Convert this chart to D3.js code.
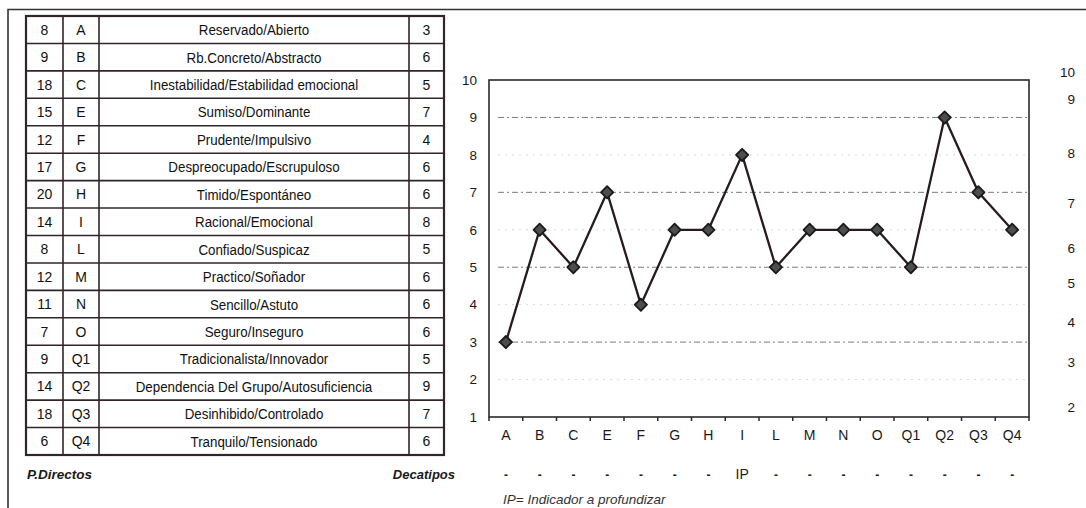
<!DOCTYPE html>
<html lang="es">
<head>
<meta charset="UTF-8">
<title>Perfil 16PF - Decatipos</title>
<script src="https://d3js.org/d3.v7.min.js"></script>
<style>
  body { margin: 0; background: #fff; overflow: hidden; }
  svg { display: block; font-family: 'Liberation Sans', Arial, sans-serif; }
  .celda { font-family: 'Liberation Sans Narrow', 'Arial Narrow', 'Liberation Sans', sans-serif; font-size: 15px; fill: #111; }
  .num { font-family: 'Liberation Sans', Arial, sans-serif; font-size: 14px; fill: #111; }
  .eje text { font-size: 13.5px; fill: #1a1a1a; }
  .pie { font-size: 13.5px; font-weight: bold; font-style: italic; fill: #1a1a1a; }
</style>
</head>
<body>
<svg id="grafico"></svg>
<script>
// Datos del perfil
const factores = ['A', 'B', 'C', 'E', 'F', 'G', 'H', 'I', 'L', 'M', 'N', 'O', 'Q1', 'Q2', 'Q3', 'Q4'];
const puntajesDirectos = [8, 9, 18, 15, 12, 17, 20, 14, 8, 12, 11, 7, 9, 14, 18, 6];
const descripciones = [
  'Reservado/Abierto', 'Rb.Concreto/Abstracto', 'Inestabilidad/Estabilidad emocional',
  'Sumiso/Dominante', 'Prudente/Impulsivo', 'Despreocupado/Escrupuloso',
  'Timido/Espontáneo', 'Racional/Emocional', 'Confiado/Suspicaz', 'Practico/Soñador',
  'Sencillo/Astuto', 'Seguro/Inseguro', 'Tradicionalista/Innovador',
  'Dependencia Del Grupo/Autosuficiencia', 'Desinhibido/Controlado', 'Tranquilo/Tensionado'
];
const decatipos = [3, 6, 5, 7, 4, 6, 6, 8, 5, 6, 6, 6, 5, 9, 7, 6];
const marcasIP = ['-', '-', '-', '-', '-', '-', '-', 'IP', '-', '-', '-', '-', '-', '-', '-', '-'];

// Ejes
const ticksIzquierda = [1, 2, 3, 4, 5, 6, 7, 8, 9, 10];
const lineasFuertes = [9, 7, 5, 3];
const lineasSuaves = [8, 6, 4, 2];
const etiquetasDerecha = [10, 9, 8, 7, 6, 5, 4, 3, 2];
const posicionesDerecha = [10.2, 9.5, 8.05, 6.7, 5.5, 4.57, 3.53, 2.46, 1.26];

const width = 1086, height = 508;
const svg = d3.select('#grafico').attr('width', width).attr('height', height);

// Marco exterior (solo arriba e izquierda)
svg.append('path')
  .attr('d', `M8,508 L8,9.5 L${width},9.5`)
  .attr('fill', 'none').attr('stroke', '#333').attr('stroke-width', 1.6);

// ---- Tabla ----
const columnas = [26, 63, 99, 409, 444];
const filas = d3.scaleBand().domain(factores).range([16, 455]);
const colorTabla = '#33242a';

const tabla = svg.append('g');
tabla.selectAll('line.h')
  .data(factores.slice(1))
  .join('line')
  .attr('x1', columnas[0]).attr('x2', columnas[4])
  .attr('y1', d => filas(d)).attr('y2', d => filas(d))
  .attr('stroke', colorTabla).attr('stroke-width', 1.6);
tabla.selectAll('line.v')
  .data(columnas.slice(1, 4))
  .join('line')
  .attr('x1', d => d).attr('x2', d => d)
  .attr('y1', 16).attr('y2', 455)
  .attr('stroke', colorTabla).attr('stroke-width', 1.6);
tabla.append('rect')
  .attr('x', columnas[0]).attr('y', 16)
  .attr('width', columnas[4] - columnas[0]).attr('height', 439)
  .attr('fill', 'none').attr('stroke', colorTabla).attr('stroke-width', 2.2);

const centroFila = d => filas(d) + filas.bandwidth() / 2;
const textosColumnas = [puntajesDirectos, factores, descripciones, decatipos];
textosColumnas.forEach((valores, c) => {
  const cx = (columnas[c] + columnas[c + 1]) / 2;
  // la descripción va condensada, como en la hoja original
  const escala = c === 2 ? 0.89 : 1;
  tabla.selectAll(null)
    .data(factores)
    .join('text')
    .attr('class', c === 2 ? 'celda' : 'num')
    .attr('transform', d => `translate(${cx},${centroFila(d)}) scale(${escala},1)`)
    .attr('dy', '0.36em')
    .attr('text-anchor', 'middle')
    .text((d, i) => valores[i]);
});

svg.append('text').attr('class', 'pie').attr('x', 27).attr('y', 479).text('P.Directos');
svg.append('text').attr('class', 'pie').attr('x', 455).attr('y', 479)
  .attr('text-anchor', 'end').style('font-size', '13px').text('Decatipos');

// ---- Gráfico ----
const x = d3.scaleBand().domain(factores).range([489, 1029]);
const y = d3.scaleLinear().domain([1, 10]).range([417, 80]);
const centroX = d => x(d) + x.bandwidth() / 2;

const grafico = svg.append('g');

// Líneas guía
grafico.selectAll('line.fuerte')
  .data(lineasFuertes)
  .join('line')
  .attr('x1', 498).attr('x2', 1027)
  .attr('y1', d => y(d)).attr('y2', d => y(d))
  .attr('stroke', '#7a7a7a').attr('stroke-width', 1)
  .attr('stroke-dasharray', '6,3,2,3');
grafico.selectAll('line.suave')
  .data(lineasSuaves)
  .join('line')
  .attr('x1', 498).attr('x2', 1027)
  .attr('y1', d => y(d)).attr('y2', d => y(d))
  .attr('stroke', '#d9d9d9').attr('stroke-width', 1)
  .attr('stroke-dasharray', '2,5');

// Marco del gráfico
grafico.append('rect')
  .attr('x', 489).attr('y', 80)
  .attr('width', 1029 - 489).attr('height', 417 - 80)
  .attr('fill', 'none').attr('stroke', '#2a2a2a').attr('stroke-width', 1.6);

// Eje izquierdo
grafico.append('g')
  .attr('class', 'eje')
  .attr('transform', 'translate(489,0)')
  .call(d3.axisLeft(y).tickValues(ticksIzquierda).tickSize(0).tickPadding(12))
  .call(g => g.select('.domain').remove())
  .selectAll('text').attr('font-family', null).attr('font-size', null);

// Eje inferior: etiquetas en el centro, marcas en los límites
grafico.append('g')
  .attr('class', 'eje')
  .attr('transform', 'translate(0,417)')
  .call(d3.axisBottom(x).tickSize(0).tickPadding(13))
  .call(g => g.select('.domain').remove())
  .selectAll('text').attr('font-family', null).attr('font-size', null).style('font-size', '14px');
grafico.selectAll('line.marca')
  .data(factores.concat(['fin']))
  .join('line')
  .attr('x1', d => d === 'fin' ? x.range()[1] : x(d))
  .attr('x2', d => d === 'fin' ? x.range()[1] : x(d))
  .attr('y1', 417).attr('y2', 421)
  .attr('stroke', '#2a2a2a').attr('stroke-width', 1.5);

// Eje derecho
grafico.selectAll('text.derecha')
  .data(etiquetasDerecha)
  .join('text')
  .attr('x', 1075)
  .attr('y', (d, i) => y(posicionesDerecha[i]))
  .attr('dy', '0.36em')
  .attr('text-anchor', 'end')
  .attr('font-size', 13.5)
  .attr('fill', '#1a1a1a')
  .text(d => d);

// Línea del perfil
const linea = d3.line()
  .x(d => centroX(d.factor))
  .y(d => y(d.valor));
const puntos = factores.map((f, i) => ({ factor: f, valor: decatipos[i] }));

grafico.append('path')
  .datum(puntos)
  .attr('d', linea)
  .attr('fill', 'none')
  .attr('stroke', '#2a1a1c')
  .attr('stroke-width', 2.3)
  .attr('stroke-linejoin', 'round');

grafico.selectAll('path.punto')
  .data(puntos)
  .join('path')
  .attr('d', d3.symbol(d3.symbolDiamond2, 95))
  .attr('transform', d => `translate(${centroX(d.factor)},${y(d.valor)})`)
  .attr('fill', '#4d4d4d')
  .attr('stroke', '#1a1a1a')
  .attr('stroke-width', 1.8)
  .attr('stroke-linejoin', 'round');

// Fila de indicadores
grafico.selectAll('text.ip')
  .data(factores)
  .join('text')
  .attr('x', centroX)
  .attr('y', 479)
  .attr('text-anchor', 'middle')
  .attr('font-size', (d, i) => marcasIP[i] === 'IP' ? 14 : 12)
  .attr('font-weight', (d, i) => marcasIP[i] === 'IP' ? 'normal' : 'bold')
  .attr('fill', '#222')
  .text((d, i) => marcasIP[i]);

svg.append('text')
  .attr('x', 503).attr('y', 504)
  .attr('font-size', 13.5).attr('font-style', 'italic').attr('fill', '#333')
  .text('IP= Indicador a profundizar');
</script>
</body>
</html>
